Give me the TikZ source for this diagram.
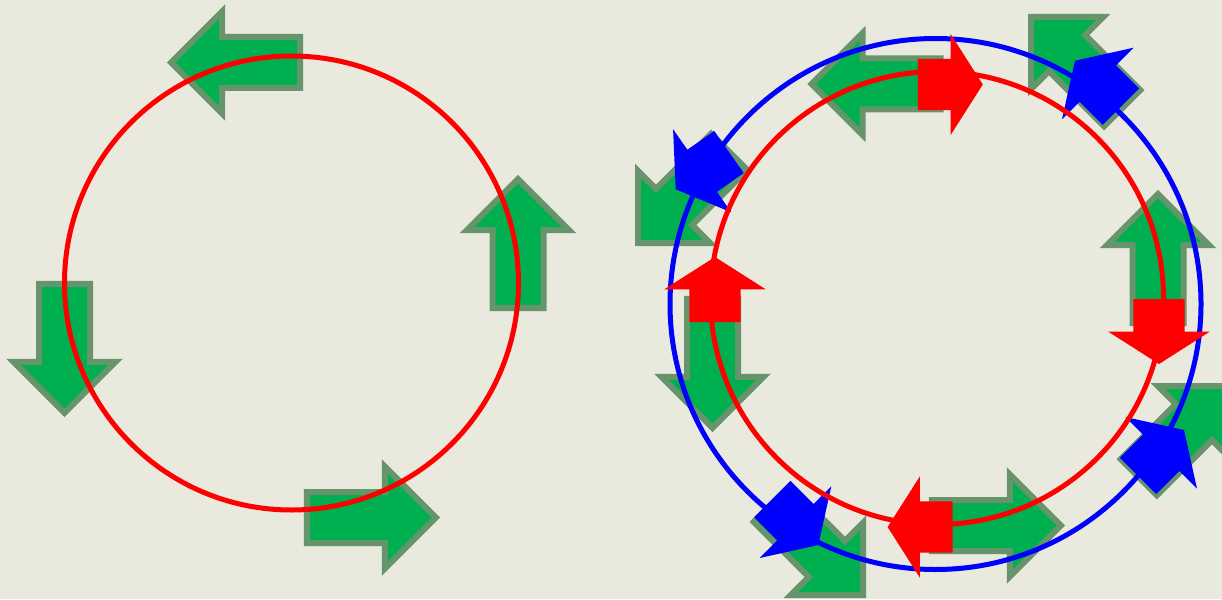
\documentclass[tikz,border=0pt]{standalone}
\usepackage{xcolor}
\usepackage{tikz}
\usetikzlibrary{shapes.arrows}

\definecolor{paper}{RGB}{233,233,222}
\definecolor{leaf}{RGB}{0,176,80}
\definecolor{leafedge}{RGB}{103,149,107}

\begin{document}
\begin{tikzpicture}[
    x=1pt, y=-1pt,
    bigarr/.style   = {single arrow, draw=leafedge, fill=leaf, line width=6pt,
                       minimum height=129pt, inner xsep=0pt, inner ysep=22.5pt,
                       single arrow head extend=25.5pt, outer sep=0pt, anchor=tip},
    smallarr/.style = {single arrow, minimum height=65pt, inner xsep=0pt,
                       inner ysep=25.5pt, single arrow head extend=25pt,
                       single arrow tip angle=115, outer sep=0pt, anchor=tip},
    ring/.style     = {line width=5pt}
]
  \path[use as bounding box, fill=paper] (0,0) rectangle (1222,599);

  % left: one ring, four arrows (placed by their tips)
  \coordinate (lc) at (291.5,283);
  \node[bigarr, rotate=180] (ltop)   at (171.2,62.5) {};
  \node[bigarr, rotate=90]  (lright) at (518,179.2)  {};
  \node[bigarr, rotate=270] (lleft)  at (64.5,412.8) {};
  \node[bigarr]             (lbot)   at (435.8,517.5) {};
  \draw[ring, red] (lc) circle[radius=227];

  % right: two rings, eight arrows
  \coordinate (rc) at (937,298);
  \coordinate (bc) at (935.5,304);
  \node[bigarr, rotate=180] (rtop) at (811.7,84)    {};
  \node[bigarr, rotate=135] (rne)  at (1031,17)     {};
  \node[bigarr, rotate=90]  (re)   at (1158,194.2)  {};
  \node[bigarr, rotate=45]  (rse)  at (1230,386)    {};
  \node[bigarr]             (rs)   at (1060.8,525.5) {};
  \node[bigarr, rotate=315] (rsw)  at (863,595)     {};
  \node[bigarr, rotate=270] (rw)   at (712.5,427.8) {};
  \node[bigarr, rotate=225] (rnw)  at (638,243)     {};

  \draw[ring, blue] (bc) circle[radius=265.5];
  \node[smallarr, fill=blue, rotate=135] (bne) at (1075,60.7)   {};
  \node[smallarr, fill=blue, rotate=215] (bnw) at (675.7,189.3) {};
  \node[smallarr, fill=blue, rotate=315] (bsw) at (818.3,545)   {};
  \node[smallarr, fill=blue, rotate=45]  (bse) at (1184,430)    {};

  \draw[ring, red] (rc) circle[radius=226.5];
  \node[smallarr, fill=red]             (rdt) at (982.8,84.5) {};
  \node[smallarr, fill=red, rotate=90]  (rdl) at (715,257)    {};
  \node[smallarr, fill=red, rotate=270] (rdr) at (1159,364)   {};
  \node[smallarr, fill=red, rotate=180] (rdb) at (887.6,527)  {};
\end{tikzpicture}
\end{document}
